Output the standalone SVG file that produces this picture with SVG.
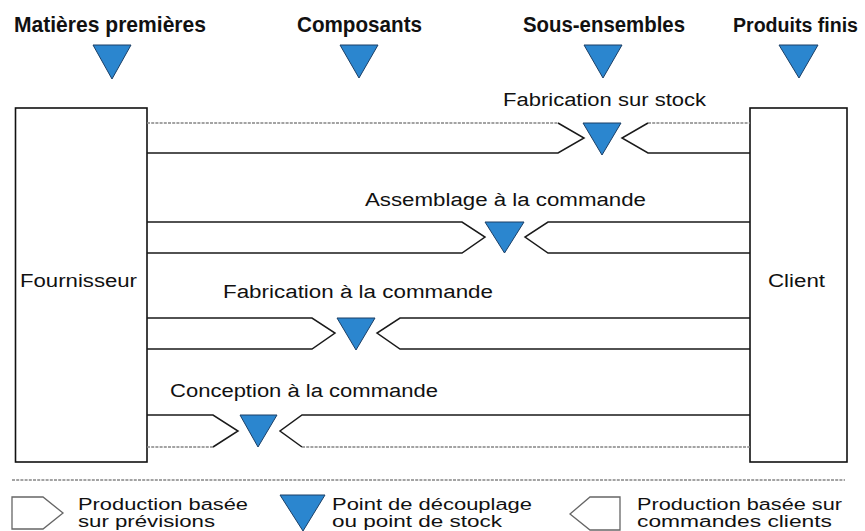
<svg xmlns="http://www.w3.org/2000/svg" width="865" height="531" viewBox="0 0 865 531">
<style>
.bg{fill:#fff}
.box{fill:#fff;stroke:#111;stroke-width:1.6}
.ln{fill:none;stroke:#1a1a1a;stroke-width:1.5}
.gl{fill:none;stroke:#858585;stroke-width:1.7;stroke-dasharray:3 1.2}
.lo{fill:#fff;stroke:#666;stroke-width:1.3}
.tri{fill:#2b86cf;stroke:#1b3f66;stroke-width:1}
.hd{font-family:"Liberation Sans Narrow","Liberation Sans",Arial,sans-serif;font-weight:bold;font-size:22px;fill:#111}
.lb{font-family:"Liberation Sans",Arial,sans-serif;font-size:18px;fill:#111}
.lg{font-family:"Liberation Sans Narrow","Liberation Sans",Arial,sans-serif;font-size:16px;fill:#111}
</style>
<rect class="bg" x="0" y="0" width="865" height="531"/>

<g id="header-matieres">
<text class="hd" x="14" y="32" textLength="192" lengthAdjust="spacingAndGlyphs">Matières premières</text>
<polygon class="tri" points="93,45 131,45 112,79"/>
</g>
<g id="header-composants">
<text class="hd" x="297" y="32" textLength="125" lengthAdjust="spacingAndGlyphs">Composants</text>
<polygon class="tri" points="340,45 378,45 359,78"/>
</g>
<g id="header-sous-ensembles">
<text class="hd" x="523" y="32" textLength="162" lengthAdjust="spacingAndGlyphs">Sous-ensembles</text>
<polygon class="tri" points="584,45 622,45 603,78"/>
</g>
<g id="header-produits">
<text class="hd" x="733" y="32" style="font-size:20px" textLength="125" lengthAdjust="spacingAndGlyphs">Produits finis</text>
<polygon class="tri" points="779,45 818,45 799,78"/>
</g>

<g id="fournisseur">
<rect class="box" x="15.5" y="108" width="131.5" height="354"/>
<text class="lb" x="20" y="287" textLength="117" lengthAdjust="spacingAndGlyphs">Fournisseur</text>
</g>
<g id="client">
<rect class="box" x="750" y="108" width="97" height="354"/>
<text class="lb" x="768" y="287" textLength="57" lengthAdjust="spacingAndGlyphs">Client</text>
</g>

<g id="connectors">
<line class="gl" x1="147" y1="123" x2="558" y2="123"/>
<polyline class="ln" points="558,123 584,138 558,153 147,153"/>
<line class="gl" x1="648" y1="123" x2="750" y2="123"/>
<polyline class="ln" points="648,123 622,138 648,153 750,153"/>
<polyline class="ln" points="147,222 462,222 485,237 462,253 147,253"/>
<polyline class="ln" points="750,222 548,222 525,237 548,253 750,253"/>
<polyline class="ln" points="147,318 312,318 335,333 312,349 147,349"/>
<polyline class="ln" points="750,318 400,318 377,333 400,349 750,349"/>
<polyline class="ln" points="147,415 213,415 238,431 213,447"/>
<line class="gl" x1="147" y1="447" x2="213" y2="447"/>
<polyline class="ln" points="750,415 302,415 280,431 302,447"/>
<line class="gl" x1="302" y1="447" x2="750" y2="447"/>
</g>

<g id="lane-stock">
<text class="lb" x="503" y="106" textLength="203" lengthAdjust="spacingAndGlyphs">Fabrication sur stock</text>
<polygon class="tri" points="583,123 621,123 602,155"/>
</g>
<g id="lane-assemblage">
<text class="lb" x="365" y="206" textLength="281" lengthAdjust="spacingAndGlyphs">Assemblage à la commande</text>
<polygon class="tri" points="485,222 524,222 504.5,253"/>
</g>
<g id="lane-fabrication">
<text class="lb" x="223" y="298" textLength="270" lengthAdjust="spacingAndGlyphs">Fabrication à la commande</text>
<polygon class="tri" points="337,318 375,318 356,350"/>
</g>
<g id="lane-conception">
<text class="lb" x="170" y="397" textLength="268" lengthAdjust="spacingAndGlyphs">Conception à la commande</text>
<polygon class="tri" points="240,415 277,415 258,447"/>
</g>

<line class="gl" x1="12" y1="480" x2="845" y2="480"/>

<g id="legend-previsions">
<polygon class="lo" points="12,497 43,497 63,513 43,529 12,529"/>
<text class="lg" x="78" y="510" textLength="170" lengthAdjust="spacingAndGlyphs">Production basée</text>
<text class="lg" x="78" y="527" textLength="137" lengthAdjust="spacingAndGlyphs">sur prévisions</text>
</g>
<g id="legend-point">
<polygon class="tri" points="280,495 325,495 303,531"/>
<text class="lg" x="332" y="510" textLength="200" lengthAdjust="spacingAndGlyphs">Point de découplage</text>
<text class="lg" x="332" y="527" textLength="170" lengthAdjust="spacingAndGlyphs">ou point de stock</text>
</g>
<g id="legend-commandes">
<polygon class="lo" points="570,514 590,497 620,497 620,530 590,530"/>
<text class="lg" x="637" y="510" textLength="205" lengthAdjust="spacingAndGlyphs">Production basée sur</text>
<text class="lg" x="637" y="527" textLength="195" lengthAdjust="spacingAndGlyphs">commandes clients</text>
</g>
</svg>
